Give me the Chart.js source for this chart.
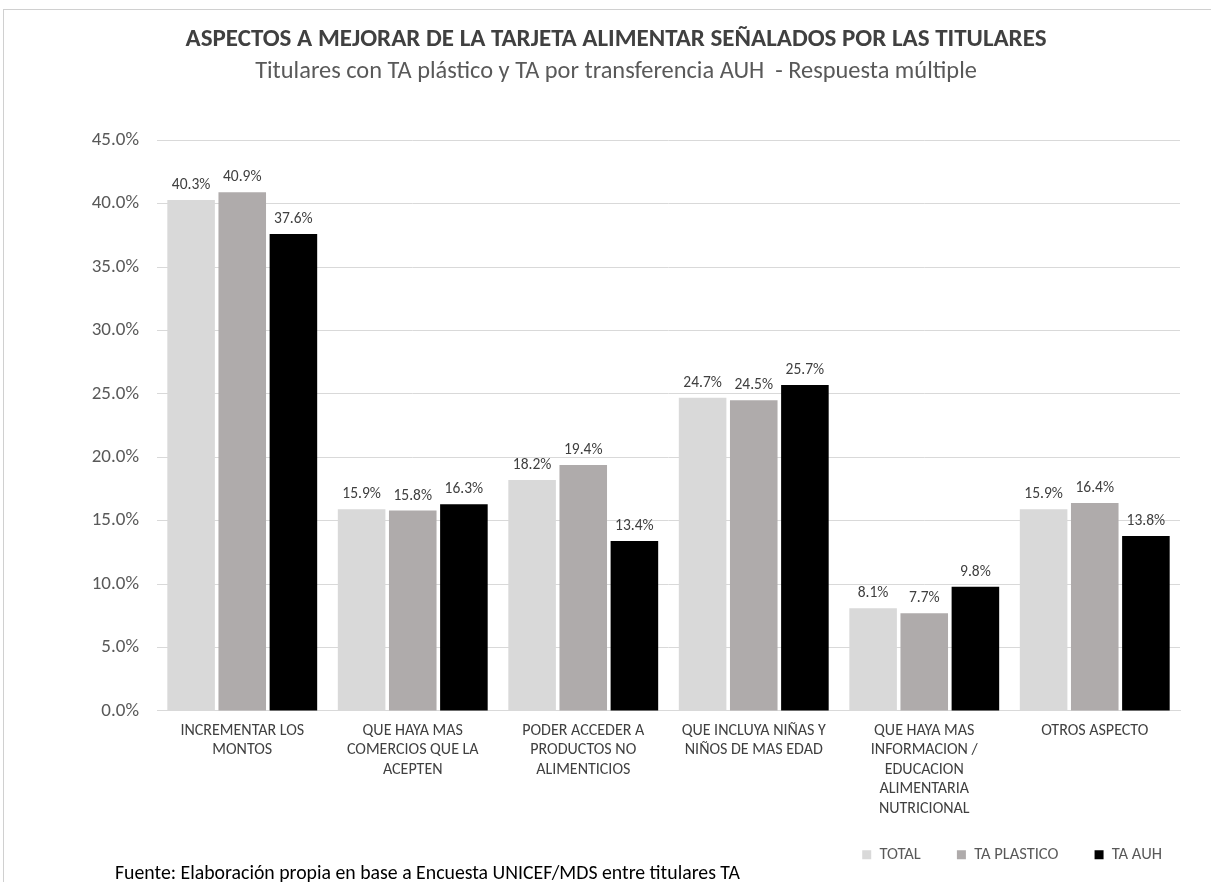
<!DOCTYPE html>
<html>
<head>
<meta charset="utf-8">
<script src="https://cdn.jsdelivr.net/npm/chart.js@4"></script>
<style>
  html, body { margin:0; padding:0; background:#fff; }
  #wrap { position:relative; width:1211px; height:882px; overflow:hidden; }
  #frame { position:absolute; left:3px; top:9px; width:1300px; height:1000px; border:1px solid #d0d0d0; }
  #chart { position:absolute; left:0; top:0; }
  #fuente { position:absolute; left:115px; top:860px; font:19.8px Carlito, Lato, sans-serif; color:#000; }
</style>
</head>
<body>
<div id="wrap">
  <div id="frame"></div>
  <canvas id="chart" width="1211" height="882"></canvas>
  <div id="fuente">Fuente: Elaboración propia en base a Encuesta UNICEF/MDS entre titulares TA</div>
</div>
<script>
// --- data ---
const categories = [
  ["INCREMENTAR LOS", "MONTOS"],
  ["QUE HAYA MAS", "COMERCIOS QUE LA", "ACEPTEN"],
  ["PODER ACCEDER A", "PRODUCTOS NO", "ALIMENTICIOS"],
  ["QUE INCLUYA NIÑAS Y", "NIÑOS DE MAS EDAD"],
  ["QUE HAYA MAS", "INFORMACION /", "EDUCACION", "ALIMENTARIA", "NUTRICIONAL"],
  ["OTROS ASPECTO"]
];
const total      = [40.3, 15.9, 18.2, 24.7, 8.1, 15.9];
const taPlastico = [40.9, 15.8, 19.4, 24.5, 7.7, 16.4];
const taAuh      = [37.6, 16.3, 13.4, 25.7, 9.8, 13.8];

const FONT = "Carlito, Lato, sans-serif";

// --- value labels above bars ---
const barLabels = {
  id: "barLabels",
  afterDatasetsDraw(chart) {
    const ctx = chart.ctx;
    ctx.save();
    ctx.font = "15.5px " + FONT;
    ctx.fillStyle = "#404040";
    ctx.textAlign = "center";
    ctx.textBaseline = "bottom";
    chart.data.datasets.forEach((ds, i) => {
      chart.getDatasetMeta(i).data.forEach((bar, j) => {
        ctx.fillText(ds.data[j].toFixed(1) + "%", bar.x, bar.y - 7);
      });
    });
    ctx.restore();
  }
};

const ctx = document.getElementById("chart").getContext("2d");
new Chart(ctx, {
  type: "bar",
  data: {
    labels: categories,
    datasets: [
      { label: "TOTAL",      data: total,      backgroundColor: "#d9d9d9" },
      { label: "TA PLASTICO", data: taPlastico, backgroundColor: "#afabab" },
      { label: "TA AUH",     data: taAuh,      backgroundColor: "#000000" }
    ]
  },
  options: {
    responsive: false,
    animation: false,
    categoryPercentage: 0.9,
    barPercentage: 0.93,
    layout: { padding: { left: 52, right: 31, top: 25, bottom: 9 } },
    plugins: {
      title: {
        display: true,
        text: "ASPECTOS A MEJORAR DE LA TARJETA ALIMENTAR SEÑALADOS POR LAS TITULARES",
        color: "#404040",
        font: { family: FONT, size: 25, weight: "bold" },
        padding: { top: 0, bottom: 2 }
      },
      subtitle: {
        display: true,
        text: "Titulares con TA plástico y TA por transferencia AUH  - Respuesta múltiple",
        color: "#595959",
        font: { family: FONT, size: 24.4 },
        padding: { top: 0, bottom: 54 }
      },
      legend: {
        position: "bottom",
        align: "end",
        labels: {
          color: "#595959",
          font: { family: FONT, size: 16.5 },
          boxWidth: 9,
          boxHeight: 9,
          padding: 18,
          // extra space after the first two items, like the original legend
          generateLabels: chart => {
            const items = Chart.defaults.plugins.legend.labels.generateLabels(chart);
            items.forEach((it, i) => { if (i < items.length - 1) it.text += "\u2002\u2009\u2009\u2009"; });
            return items;
          }
        }
      },
      tooltip: { enabled: false }
    },
    scales: {
      x: {
        grid: { display: false, drawTicks: false },
        border: { color: "#d9d9d9" },
        ticks: {
          color: "#404040",
          font: { family: FONT, size: 16, lineHeight: 1.22 },
          maxRotation: 0,
          autoSkip: false,
          padding: 10
        }
      },
      y: {
        min: 0,
        max: 45,
        border: { display: false },
        grid: { color: "#d9d9d9", drawTicks: false },
        afterFit: scale => { scale.width = 105; },
        ticks: {
          stepSize: 5,
          color: "#595959",
          font: { family: FONT, size: 19 },
          padding: 18,
          callback: v => v.toFixed(1) + "%"
        }
      }
    }
  },
  plugins: [barLabels]
});
</script>
</body>
</html>
